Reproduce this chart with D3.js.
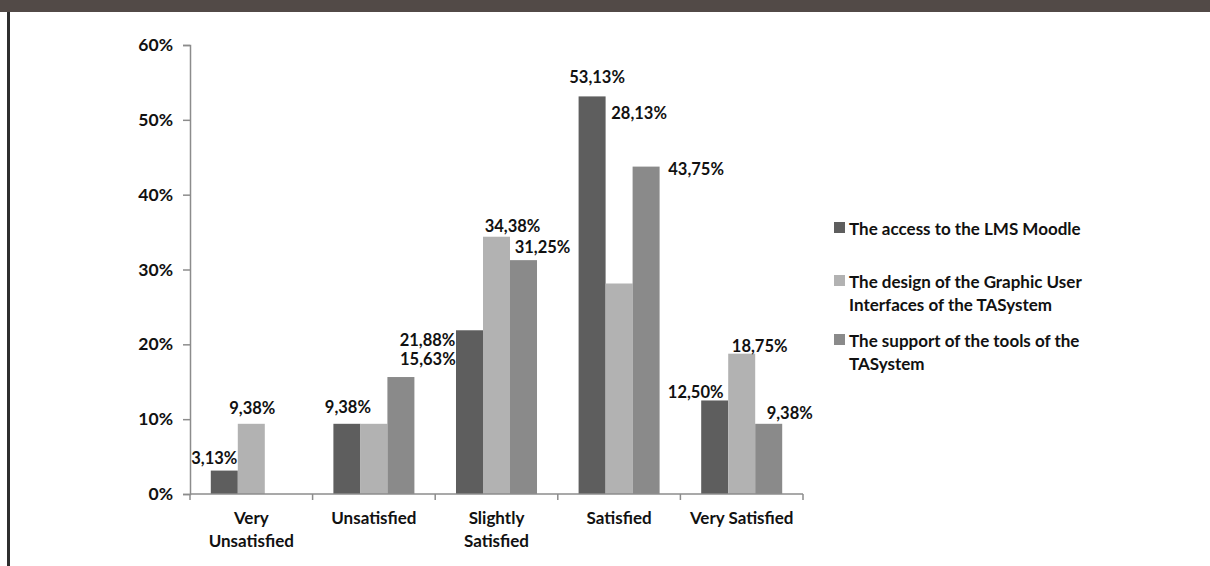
<!DOCTYPE html>
<html lang="en">
<head>
<meta charset="UTF-8">
<title>Satisfaction with the TASystem</title>
<script src="https://d3js.org/d3.v7.min.js"></script>
<style>
	body { margin: 0; background: #fff; }
	svg { display: block; }
	text { font-family: Lato, "Open Sans", sans-serif; font-weight: bold; fill: #111; }
</style>
</head>
<body>
<div id="chart"></div>
<script>
// categories (two lines where the label wraps)
const categories = [["Very", "Unsatisfied"], ["Unsatisfied"], ["Slightly", "Satisfied"], ["Satisfied"], ["Very Satisfied"]];
const seriesNames = [
	["The access to the LMS Moodle"],
	["The design of the Graphic User", "Interfaces of the TASystem"],
	["The support of the tools of the", "TASystem"]
];
const accessValues = [3.13, 9.38, 21.88, 53.13, 12.50];
const designValues = [9.38, 9.38, 34.38, 28.13, 18.75];
const supportValues = [0, 15.63, 31.25, 43.75, 9.38];
const yTicks = [0, 10, 20, 30, 40, 50, 60];

const seriesValues = [accessValues, designValues, supportValues];
const colors = ["#5e5e5e", "#b2b2b2", "#8a8a8a"];

const width = 1210, height = 566;

const svg = d3.select("#chart").append("svg")
	.attr("width", width)
	.attr("height", height);

// frame: dark header strip and left rule
svg.append("rect").attr("x", 0).attr("y", 0).attr("width", width).attr("height", 12).attr("fill", "#524a47");
svg.append("rect").attr("x", 7).attr("y", 12).attr("width", 3).attr("height", height - 12).attr("fill", "#2e2e2e");

const x0 = d3.scaleBand().domain(d3.range(categories.length)).range([190, 803]);
const x1 = d3.scaleBand().domain(d3.range(3)).range([0, x0.bandwidth()]).paddingOuter(0.77);
const y = d3.scaleLinear().domain([0, 60]).range([494, 45]);

// y axis
const yAxis = svg.append("g")
	.attr("transform", "translate(190,0)")
	.call(d3.axisLeft(y).tickValues(yTicks).tickSize(7).tickPadding(10).tickFormat(d => d + "%"));
yAxis.selectAll("text").style("font-size", "17.5px").attr("fill", "#111");
yAxis.selectAll("line, path").attr("stroke", "#8c8c8c").attr("stroke-width", 1.5);

// bars
const groups = svg.selectAll("g.cat")
	.data(categories)
	.enter()
	.append("g")
	.attr("class", "cat")
	.attr("transform", (d, i) => `translate(${x0(i)},0)`);

groups.selectAll("rect")
	.data((d, i) => seriesValues.map((vals, s) => ({ s: s, c: i, v: vals[i] })))
	.enter()
	.append("rect")
	.attr("x", d => x1(d.s))
	.attr("y", d => y(d.v))
	.attr("width", x1.bandwidth())
	.attr("height", d => y(0) - y(d.v))
	.attr("fill", d => colors[d.s]);

// x axis line + boundary ticks
const bounds = d3.range(categories.length).map(i => x0(i)).concat([x0.range()[1]]);
svg.append("line")
	.attr("x1", 190).attr("x2", x0.range()[1])
	.attr("y1", y(0)).attr("y2", y(0))
	.attr("stroke", "#8c8c8c").attr("stroke-width", 1.5);
svg.selectAll("line.xtick")
	.data(bounds)
	.enter()
	.append("line")
	.attr("class", "xtick")
	.attr("x1", d => d).attr("x2", d => d)
	.attr("y1", y(0)).attr("y2", y(0) + 6)
	.attr("stroke", "#8c8c8c").attr("stroke-width", 1.5);

groups.append("text")
	.attr("text-anchor", "middle")
	.style("font-size", "17px")
	.selectAll("tspan")
	.data(d => d)
	.enter()
	.append("tspan")
	.attr("x", x0.bandwidth() / 2)
	.attr("y", (d, i) => 524 + i * 23)
	.text(d => d);

// data labels - the original had several moved by hand
const fmt = d3.formatLocale({ decimal: ",", thousands: ".", grouping: [3], currency: ["", ""] }).format(".2f");
const labelShift = {
	"0-0": [-10, -13], "0-1": [1, -16], "0-2": null,
	"1-0": [1, -17], "1-1": null, "1-2": [27, -18],
	"2-0": [-42, 10], "2-1": [16, -11], "2-2": [19, -13],
	"3-0": [5, -19], "3-1": [20, -170], "3-2": [50, 2],
	"4-0": [-19, -8], "4-1": [18, -8], "4-2": [21, -11]
};

groups.selectAll("text.val")
	.data((d, i) => seriesValues.map((vals, s) => ({ s: s, c: i, v: vals[i] })))
	.enter()
	.filter(d => labelShift[d.c + "-" + d.s])
	.append("text")
	.attr("class", "val")
	.attr("text-anchor", "middle")
	.attr("dominant-baseline", "central")
	.style("font-size", "16.5px")
	.attr("x", d => x1(d.s) + x1.bandwidth() / 2 + labelShift[d.c + "-" + d.s][0])
	.attr("y", d => y(d.v) + labelShift[d.c + "-" + d.s][1])
	.text(d => fmt(d.v) + "%");

// legend
const legendY = [228, 281, 340];
const legend = svg.selectAll("g.legend")
	.data(seriesNames)
	.enter()
	.append("g")
	.attr("class", "legend")
	.attr("transform", (d, i) => `translate(834,${legendY[i]})`);

legend.append("rect")
	.attr("x", 0).attr("y", -6)
	.attr("width", 11).attr("height", 11)
	.attr("fill", (d, i) => colors[i]);

legend.append("text")
	.style("font-size", "17px")
	.selectAll("tspan")
	.data(d => d)
	.enter()
	.append("tspan")
	.attr("x", 15)
	.attr("y", (d, i) => i * 23)
	.attr("dominant-baseline", "central")
	.text(d => d);
</script>
</body>
</html>
